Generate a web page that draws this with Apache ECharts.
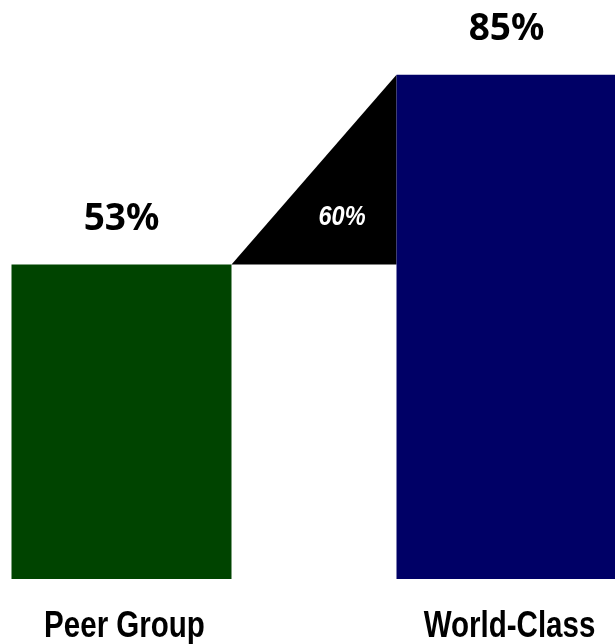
<!DOCTYPE html>
<html>
<head>
<meta charset="utf-8">
<script src="https://cdn.jsdelivr.net/npm/echarts@6/dist/echarts.min.js"></script>
<style>
    html, body { margin: 0; padding: 0; background: #fff; }
    #chart { width: 615px; height: 644px; }
</style>
</head>
<body>
<div id="chart"></div>
<script>
// 数据
const categories = ['Peer Group', 'World-Class'];
const values = [53, 85];
const barColors = ['#004400', '#000066'];
const gapLabels = ['60%'];

const barWidth = 220;

var myChart = echarts.init(document.getElementById('chart'));

var option = {
    animation: false,
    backgroundColor: '#ffffff',
    grid: {
        // 两个类目中心需要落在 121 和 506 附近，所以网格向两侧伸出画布
        left: -71,
        right: -84,
        top: 45,
        bottom: 65,
        outerBoundsMode: 'none'
    },
    xAxis: {
        type: 'category',
        data: categories,
        axisLine: { show: false },
        axisTick: { show: false },
        axisLabel: { show: false }
    },
    yAxis: {
        type: 'value',
        min: 0,
        max: 90,
        show: false,
        splitLine: { show: false }
    },
    series: [
        {
            type: 'bar',
            barWidth: barWidth,
            data: values.map(function (v, i) {
                return { value: v, itemStyle: { color: barColors[i] } };
            }),
            label: {
                show: true,
                position: 'top',
                distance: 27,
                formatter: '{c}%',
                fontFamily: 'Noto Sans',
                fontWeight: 'bold',
                fontSize: 37,
                color: '#000'
            }
        },
        {
            // 两柱之间的黑色三角形
            type: 'custom',
            data: [[0, values[0], 1, values[1]]],
            renderItem: function (params, api) {
                var p0 = api.coord([api.value(0), api.value(1)]);
                var p1 = api.coord([api.value(2), api.value(3)]);
                var x0 = p0[0] + barWidth / 2;
                var x1 = p1[0] - barWidth / 2;
                var yBase = p0[1];
                var yTop = p1[1];
                return {
                    type: 'group',
                    children: [
                        {
                            type: 'polygon',
                            shape: { points: [[x0, yBase], [x1, yBase], [x1, yTop]] },
                            style: { fill: '#000' }
                        },
                        {
                            type: 'text',
                            x: x0 + (x1 - x0) * 0.67,
                            y: yBase - (yBase - yTop) * 0.25,
                            scaleX: 0.84,
                            style: {
                                text: gapLabels[0],
                                fill: '#fff',
                                fontFamily: 'Liberation Sans',
                                fontStyle: 'italic',
                                fontWeight: 'bold',
                                fontSize: 28,
                                align: 'center',
                                verticalAlign: 'middle'
                            }
                        }
                    ]
                };
            }
        },
        {
            // 类目名称（窄体加粗效果用 scaleX 模拟）
            type: 'custom',
            data: categories.map(function (c, i) { return [i, 0]; }),
            renderItem: function (params, api) {
                var p = api.coord([api.value(0), 0]);
                return {
                    type: 'text',
                    x: p[0] + 3,
                    y: p[1] + 30,
                    scaleX: 0.82,
                    style: {
                        text: categories[params.dataIndex],
                        fill: '#000',
                        fontFamily: 'Liberation Sans',
                        fontWeight: 'bold',
                        fontSize: 36,
                        align: 'center',
                        verticalAlign: 'top'
                    }
                };
            }
        }
    ]
};

myChart.setOption(option);
</script>
</body>
</html>
